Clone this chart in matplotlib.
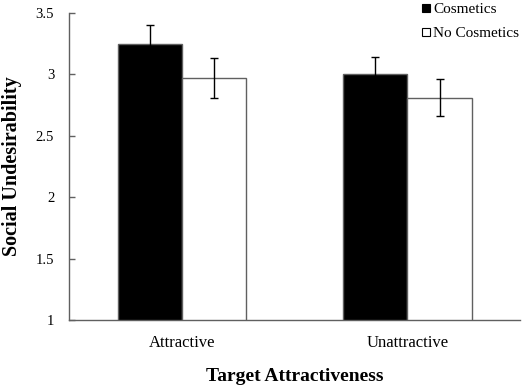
import matplotlib
matplotlib.use("Agg")
import matplotlib.pyplot as plt
from matplotlib.lines import Line2D
import numpy as np

plt.rcParams['font.family'] = ['Liberation Serif', 'DejaVu Serif']

# Data
categories = ['Attractive', 'Unattractive']
cosmetics = [3.25, 3.00]
cosmetics_err = [0.155, 0.145]
no_cosmetics = [2.97, 2.81]
no_cosmetics_err = [0.16, 0.15]
ytick_vals = [1, 1.5, 2, 2.5, 3, 3.5]
ytick_labels = ['1', '1.5', '2', '2.5', '3', '3.5']

fig = plt.figure(figsize=(5.22, 3.88), dpi=100)
ax = fig.add_axes([0.133, 0.175, 0.863, 0.7915])

x = np.arange(len(categories))
w = 0.286
edge = '#606060'
ax.bar(x - w / 2, cosmetics, w, bottom=0, color='black', edgecolor=edge,
       linewidth=1.0, yerr=cosmetics_err, capsize=3,
       error_kw=dict(ecolor='black', elinewidth=1.0, capthick=1.0))
ax.bar(x + w / 2, no_cosmetics, w, bottom=0, color='white', edgecolor=edge,
       linewidth=1.0, yerr=no_cosmetics_err, capsize=3,
       error_kw=dict(ecolor='black', elinewidth=1.0, capthick=1.0))

ax.set_xlim(-0.5, 1.5)
ax.set_ylim(1, 3.5)
ax.set_yticks(ytick_vals)
ax.set_yticklabels(ytick_labels, fontsize=10.5)
ax.set_xticks(x)
ax.set_xticklabels(categories, fontsize=12)
ax.tick_params(axis='x', length=0, pad=11)
ax.tick_params(axis='y', direction='in', length=4, width=1, color=edge, pad=11)

for s in ['top', 'right']:
    ax.spines[s].set_visible(False)
for s in ['left', 'bottom']:
    ax.spines[s].set_color(edge)
    ax.spines[s].set_linewidth(1.0)

ax.set_ylabel('Social Undesirability', fontsize=14.5, fontweight='bold', labelpad=10)
ax.set_xlabel('Target Attractiveness', fontsize=14, fontweight='bold', labelpad=12)

handles = [
    Line2D([], [], marker='s', linestyle='none', markersize=6,
           markerfacecolor='black', markeredgecolor='black', markeredgewidth=0.8),
    Line2D([], [], marker='s', linestyle='none', markersize=6,
           markerfacecolor='white', markeredgecolor='black', markeredgewidth=0.8),
]
fig.legend(handles, ['Cosmetics', 'No Cosmetics'], loc='upper left',
           bbox_to_anchor=(0.795, 1.01), frameon=False, fontsize=11,
           handlelength=0.6, handletextpad=0.2, labelspacing=0.7,
           borderaxespad=0)

fig.savefig('out.png', dpi=100)
